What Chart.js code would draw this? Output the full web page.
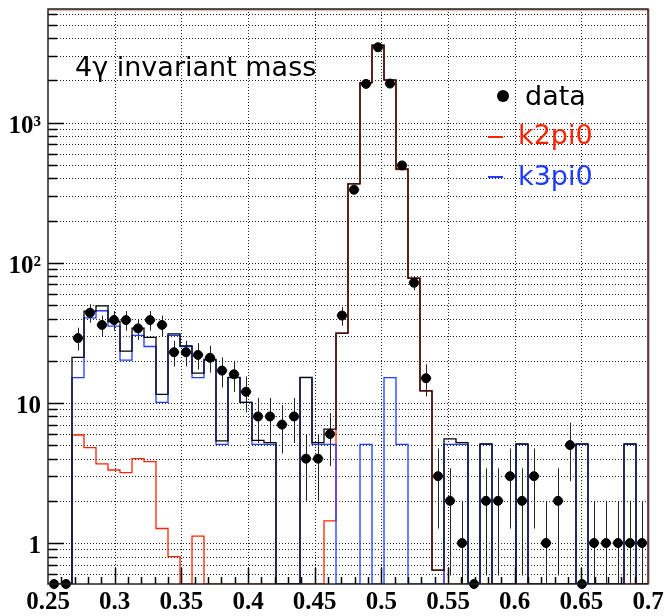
<!DOCTYPE html>
<html>
<head>
<meta charset="utf-8">
<title>4γ invariant mass</title>
<script src="https://cdn.jsdelivr.net/npm/chart.js@4.4.1/dist/chart.umd.min.js"></script>
<style>
  html, body { margin: 0; padding: 0; background: #fff; }
  canvas { display: block; }
</style>
</head>
<body>
<canvas id="mass" width="668" height="616"></canvas>
<script>
// 50 bins of 0.009 GeV between 0.25 and 0.70
const xMin = 0.25;
const xMax = 0.70;
const binWidth = 0.009;
const yMin = 0.51;
const yMax = 6470;

// events per bin
const dataCounts = [0, 0, 29, 44, 36, 39, 39, 34, 39, 36, 23, 23, 22, 21, 17, 16, 12, 8, 8, 7,
  8, 4, 4, 6, 42, 332, 1890, 3450, 1900, 495, 72, 15, 3, 2, 1, 0, 2, 2, 3, 2,
  3, 1, 2, 5, 0, 1, 1, 1, 1, 1];

// scaled MC: K -> 2pi0
const k2pi0 = [0, 0, 5.9, 4.8, 3.67, 3.32, 3.18, 4.0, 3.81, 1.27, 0.8, 0, 1.12, 0, 0, 0, 0, 0, 0, 0,
  0, 0, 0, 1.44, 31.5, 365, 1926, 3565, 2003, 462, 77.8, 12.2, 0.64, 0, 0, 0, 0, 0, 0, 0,
  0, 0, 0, 0, 0, 0, 0, 0, 0, 0];

// scaled MC: K -> 3pi0
const k3pi0 = [0, 0, 15.15, 40.4, 45.45, 35.35, 20.2, 30.3, 25.25, 10.1, 30.3, 25.25, 15.15, 20.2, 5.05, 15.15, 10.1, 5.05, 5.05, 0,
  0, 15.15, 5.05, 5.05, 0, 0, 5.05, 0, 15.15, 5.05, 0, 0, 0, 5.05, 5.05, 0, 5.05, 0, 0, 5.05,
  0, 0, 0, 0, 5.05, 0, 0, 0, 5.05, 0];

// MC sum
const mcTotal = [0, 0, 21.1, 45.2, 49.3, 38.1, 23.4, 34.2, 29.3, 11.5, 31.1, 25.5, 16.3, 20.4, 5.35, 15.2, 10.1, 5.4, 5.2, 0,
  0, 15.2, 5.2, 6.5, 31.5, 365, 1931, 3565, 2018, 467, 77.8, 12.2, 0.64, 5.53, 5.2, 0, 5.1, 0, 0, 5.1,
  0, 0, 0, 0, 5.1, 0, 0, 0, 5.1, 0];

const xTicks = [0.25, 0.3, 0.35, 0.4, 0.45, 0.5, 0.55, 0.6, 0.65, 0.7];
const yDecades = [1, 10, 100, 1000];
const yDecadeLabels = ['1', '10', '10²', '10³'];

const RED = '#ff2200';
const BLUE = '#1f3cff';

// outline points at the left edge of every bin, closed at xMax
const stepPoints = (vals) => {
  const pts = vals.map((v, i) => ({ x: xMin + i * binWidth, y: Math.max(v, yMin) }));
  pts.push({ x: xMax, y: Math.max(vals[vals.length - 1], yMin) });
  return pts;
};

const histDataset = (label, vals, color, width) => ({
  label,
  data: stepPoints(vals),
  stepped: 'before',
  borderColor: color,
  borderWidth: width,
  pointRadius: 0,
  fill: false
});

// every 1..9 x 10^n inside the y range
const logMinors = [];
for (let e = -1; e <= 4; e++) {
  for (let m = 1; m <= 9; m++) {
    const v = m * Math.pow(10, e);
    if (v > yMin && v < yMax) logMinors.push(v);
  }
}

const rootStyle = {
  id: 'rootStyle',
  beforeDatasetsDraw(chart) {
    const { ctx, chartArea: a, scales: { x, y } } = chart;
    ctx.save();
    // dotted grid
    ctx.strokeStyle = '#222';
    ctx.lineWidth = 1;
    ctx.setLineDash([1, 2]);
    ctx.beginPath();
    xTicks.slice(1, -1).forEach(t => {
      const px = Math.round(x.getPixelForValue(t)) + 0.5;
      ctx.moveTo(px, a.top);
      ctx.lineTo(px, a.bottom);
    });
    logMinors.forEach(v => {
      const py = Math.round(y.getPixelForValue(v)) + 0.5;
      ctx.moveTo(a.left, py);
      ctx.lineTo(a.right, py);
    });
    ctx.stroke();
    ctx.setLineDash([]);

    // error bars on the data
    const half = binWidth / 2;
    dataCounts.forEach((n, i) => {
      if (n <= 0) return;
      const cx = xMin + (i + 0.5) * binWidth;
      const px = Math.round(x.getPixelForValue(cx)) + 0.5;
      const py = y.getPixelForValue(n);
      const err = Math.sqrt(n);
      const top = y.getPixelForValue(n + err);
      const bot = n - err > yMin ? y.getPixelForValue(n - err) : a.bottom;
      ctx.strokeStyle = '#aaa';
      ctx.beginPath();
      ctx.moveTo(x.getPixelForValue(cx - half), py);
      ctx.lineTo(x.getPixelForValue(cx + half), py);
      ctx.stroke();
      ctx.strokeStyle = '#222';
      ctx.beginPath();
      ctx.moveTo(px, top);
      ctx.lineTo(px, bot);
      ctx.stroke();
    });
    ctx.restore();
  },
  afterDraw(chart) {
    const { ctx, chartArea: a, scales: { x, y } } = chart;
    ctx.save();
    // tick marks pointing into the frame
    ctx.strokeStyle = '#000';
    ctx.lineWidth = 1.5;
    ctx.beginPath();
    logMinors.forEach(v => {
      const py = Math.round(y.getPixelForValue(v)) + 0.5;
      const len = yDecades.includes(v) ? 16 : 9;
      ctx.moveTo(a.left, py);
      ctx.lineTo(a.left + len, py);
    });
    for (let i = 1; i < 45; i++) {
      const t = xMin + i * 0.01;
      const px = Math.round(x.getPixelForValue(t)) + 0.5;
      const len = i % 5 === 0 ? 16 : 7;
      ctx.moveTo(px, a.bottom);
      ctx.lineTo(px, a.bottom - len);
    }
    ctx.stroke();

    // frame, with the red outline showing just inside the top and right
    ctx.lineWidth = 1;
    ctx.strokeStyle = 'rgba(200, 40, 20, 0.7)';
    ctx.beginPath();
    ctx.moveTo(a.left, a.top + 1);
    ctx.lineTo(a.right, a.top + 1);
    ctx.moveTo(a.right + 1, a.top);
    ctx.lineTo(a.right + 1, a.bottom);
    ctx.stroke();
    ctx.strokeStyle = '#222';
    ctx.lineWidth = 1.5;
    ctx.strokeRect(a.left, a.top, a.right - a.left, a.bottom - a.top);

    // title
    ctx.font = '27px "DejaVu Sans"';
    ctx.textBaseline = 'alphabetic';
    ctx.textAlign = 'left';
    ctx.fillStyle = '#000';
    ctx.fillText('4γ invariant mass', 75, 76);

    // legend
    ctx.beginPath();
    ctx.arc(503, 96, 6, 0, Math.PI * 2);
    ctx.fill();
    ctx.fillText('data', 525, 105);
    ctx.fillStyle = RED;
    ctx.fillRect(488, 136, 15, 2);
    ctx.fillText('k2pi0', 518, 144);
    ctx.fillStyle = BLUE;
    ctx.fillRect(488, 176, 15, 2);
    ctx.fillText('k3pi0', 518, 185);
    ctx.restore();
  }
};

const tickFont = { family: '"Liberation Serif", serif', size: 25, weight: 'bold' };

new Chart(document.getElementById('mass'), {
  type: 'line',
  data: {
    datasets: [
      {
        label: 'data',
        type: 'scatter',
        data: dataCounts.map((n, i) => ({ x: xMin + (i + 0.5) * binWidth, y: Math.max(n, yMin) })),
        backgroundColor: '#000',
        borderColor: '#000',
        pointRadius: 4.5,
        pointHoverRadius: 4.5,
        showLine: false,
        clip: false
      },
      histDataset('total', mcTotal, '#000', 1.3),
      histDataset('k3pi0', k3pi0, BLUE, 1.3),
      histDataset('k2pi0', k2pi0, RED, 1.3)
    ]
  },
  options: {
    responsive: false,
    animation: false,
    events: [],
    layout: { padding: { top: 9, right: 20, left: 0, bottom: 0 } },
    plugins: { legend: { display: false }, tooltip: { enabled: false } },
    scales: {
      x: {
        type: 'linear',
        min: xMin,
        max: xMax,
        grid: { display: false, drawTicks: false },
        border: { display: false },
        afterFit: s => { s.height = 32; s.paddingLeft = 0; s.paddingRight = 0; },
        afterBuildTicks: s => { s.ticks = xTicks.map(v => ({ value: v })); },
        ticks: {
          autoSkip: false,
          maxRotation: 0,
          padding: 4,
          color: '#000',
          font: tickFont,
          callback: v => String(+v.toFixed(2))
        }
      },
      y: {
        type: 'logarithmic',
        min: yMin,
        max: yMax,
        grid: { display: false, drawTicks: false },
        border: { display: false },
        afterFit: s => { s.width = 48; s.paddingTop = 0; s.paddingBottom = 0; },
        afterBuildTicks: s => { s.ticks = yDecades.map(v => ({ value: v })); },
        ticks: {
          autoSkip: false,
          padding: 7,
          labelOffset: 4,
          color: '#000',
          font: tickFont,
          callback: v => yDecadeLabels[yDecades.indexOf(v)]
        }
      }
    }
  },
  plugins: [rootStyle]
});
</script>
</body>
</html>
